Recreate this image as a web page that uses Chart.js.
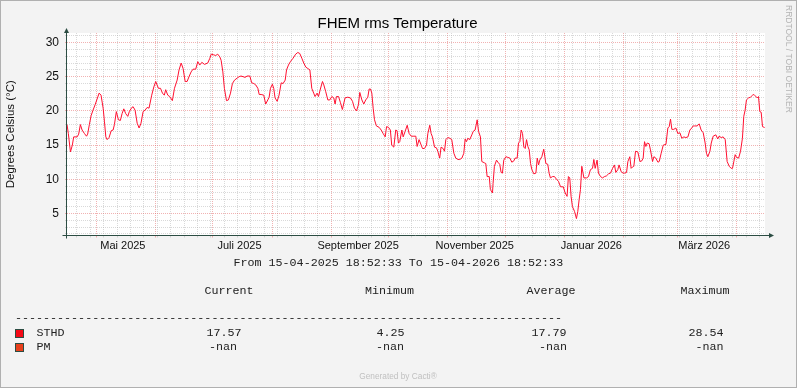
<!DOCTYPE html>
<html>
<head>
<meta charset="utf-8">
<title>FHEM rms Temperature</title>
<script src="https://cdn.jsdelivr.net/npm/chart.js@4.4.1/dist/chart.umd.min.js"></script>
<style>
  html, body { margin: 0; padding: 0; background: #f3f3f3; }
  #wrap { width: 797px; height: 388px; }
</style>
</head>
<body>
<div id="wrap"><canvas id="tempChart" width="797" height="388"></canvas></div>
<script>
// STHD temperature: days since 15-04-2025 18:52:33 and degrees C
const dayOffsets = [
    0.0, 0.7, 1.8, 2.8, 3.5, 5.3, 6.1, 7.0, 7.9, 9.1,
    10.2, 10.8, 11.7, 12.6, 13.6, 14.7, 15.7, 16.8, 17.8, 18.9,
    19.6, 20.3, 21.0, 22.0, 23.1, 24.1, 24.8, 25.8, 26.9, 27.9,
    28.8, 29.7, 30.7, 31.8, 32.6, 33.9, 34.6, 35.6, 36.7, 37.7,
    38.7, 39.8, 40.8, 41.9, 42.9, 44.3, 45.4, 46.4, 47.8, 48.9,
    49.9, 50.9, 51.6, 52.7, 53.7, 55.1, 56.2, 57.6, 58.6, 59.7,
    60.7, 61.8, 62.8, 63.8, 64.9, 65.9, 67.3, 68.4, 69.4, 70.5,
    71.9, 73.6, 74.7, 75.4, 76.7, 77.8, 78.8, 79.9, 80.6, 81.5,
    82.3, 83.4, 84.4, 85.5, 86.5, 87.6, 89.0, 90.0, 91.0, 92.1,
    93.1, 94.2, 95.6, 96.6, 97.7, 98.7, 99.8, 100.5, 101.5, 102.9,
    103.9, 105.0, 105.7, 106.4, 107.4, 108.1, 108.8, 109.9, 110.9, 112.0,
    113.0, 114.1, 114.8, 115.8, 116.8, 118.2, 119.6, 120.7, 121.7, 122.8,
    123.8, 124.9, 125.9, 127.0, 128.0, 129.0, 129.7, 130.8, 131.5, 132.5,
    133.6, 134.3, 135.3, 136.4, 137.4, 138.5, 139.5, 140.2, 140.9, 142.0,
    143.0, 144.0, 145.4, 146.8, 148.2, 149.3, 150.3, 151.4, 152.4, 153.1,
    154.2, 155.2, 156.2, 157.3, 158.0, 158.7, 159.4, 160.1, 160.8, 161.8,
    163.2, 164.3, 165.3, 166.4, 167.1, 168.1, 169.1, 169.8, 170.9, 171.9,
    172.6, 173.3, 174.0, 175.1, 175.8, 176.8, 177.9, 178.9, 180.0, 181.4,
    182.4, 183.1, 184.1, 184.8, 185.9, 186.9, 188.0, 188.7, 189.7, 190.4,
    191.1, 192.2, 193.2, 193.9, 194.9, 195.6, 196.7, 197.4, 198.1, 199.1,
    200.2, 201.2, 202.3, 203.3, 204.4, 205.4, 206.5, 207.5, 208.2, 208.9,
    209.6, 210.6, 211.7, 212.4, 213.4, 214.5, 215.2, 216.2, 216.9, 218.3,
    219.0, 219.7, 220.8, 221.4, 222.5, 222.8, 223.5, 224.6, 225.6, 226.3,
    227.0, 227.7, 228.4, 229.5, 230.5, 231.6, 232.6, 233.7, 234.3, 235.4,
    236.1, 236.8, 237.5, 238.2, 238.9, 239.6, 240.3, 241.0, 241.7, 242.4,
    243.1, 244.1, 245.2, 245.9, 246.6, 247.2, 248.3, 249.3, 250.4, 251.4,
    252.1, 252.8, 253.9, 254.9, 256.0, 257.0, 258.1, 259.5, 260.5, 261.5,
    262.2, 262.9, 263.6, 264.3, 265.4, 266.4, 267.1, 267.8, 268.5, 269.2,
    270.3, 271.7, 272.7, 273.7, 274.8, 275.5, 276.2, 277.2, 277.9, 279.0,
    280.0, 281.1, 282.1, 283.2, 284.2, 285.3, 286.3, 287.0, 288.0, 288.7,
    289.8, 290.8, 291.5, 292.6, 293.3, 294.3, 295.0, 295.7, 296.4, 297.3,
    298.5, 299.6, 300.6, 301.3, 302.0, 302.7, 303.4, 304.4, 305.1, 306.2,
    306.9, 307.9, 309.0, 309.7, 310.7, 311.8, 313.2, 314.2, 314.9, 315.6,
    316.3, 317.3, 318.4, 319.4, 320.5, 321.5, 322.6, 323.6, 324.7, 325.7,
    326.7, 327.4, 328.1, 329.5, 330.6, 331.6, 332.7, 333.7, 334.4, 335.1,
    336.2, 336.9, 337.9, 339.3, 340.3, 341.0, 342.1, 343.1, 344.2, 345.2,
    346.3, 347.3, 348.0, 348.7, 349.4, 350.1, 351.2, 352.2, 353.2, 353.9,
    354.6, 355.3, 356.4, 357.4, 358.5, 359.2, 359.9, 360.9, 361.6, 362.3,
    363.0, 363.7, 364.8
];
const sthdTemps = [
    18.0, 16.7, 14.0, 15.0, 16.2, 16.2, 16.6, 18.0, 17.2, 16.7,
    16.3, 16.6, 18.0, 19.3, 20.1, 20.9, 21.7, 22.6, 22.3, 20.4,
    18.4, 16.2, 15.8, 16.1, 17.1, 17.2, 18.0, 19.9, 18.7, 18.6,
    19.6, 20.3, 19.6, 19.2, 19.9, 20.5, 20.6, 20.1, 18.2, 17.5,
    18.2, 19.9, 20.1, 20.5, 20.4, 22.3, 23.5, 24.3, 23.3, 23.3,
    22.6, 22.3, 23.1, 22.3, 22.1, 21.5, 23.3, 24.5, 26.0, 27.0,
    26.2, 24.3, 24.3, 25.0, 25.7, 26.1, 26.1, 27.2, 26.7, 27.1,
    26.8, 27.0, 27.7, 28.3, 28.2, 28.1, 28.3, 27.9, 27.4, 25.7,
    23.3, 21.5, 21.6, 22.6, 24.0, 24.5, 24.8, 25.0, 25.1, 25.0,
    24.9, 25.1, 25.1, 24.1, 24.0, 23.8, 23.3, 22.4, 22.4, 22.3,
    21.0, 21.6, 22.0, 23.3, 23.9, 23.3, 21.9, 21.4, 22.3, 24.1,
    24.0, 24.5, 26.0, 26.7, 27.2, 27.7, 28.3, 28.54, 28.4, 27.7,
    27.0, 26.4, 26.2, 26.0, 23.3, 22.6, 22.1, 22.6, 22.1, 23.2,
    24.3, 23.8, 22.8, 21.6, 21.6, 22.1, 21.9, 21.0, 22.1, 22.1,
    21.2, 20.2, 21.9, 22.0, 21.9, 21.4, 20.4, 20.0, 20.9, 22.7,
    21.6, 21.0, 21.6, 22.0, 23.2, 23.2, 22.6, 20.4, 18.7, 17.8,
    17.6, 17.2, 16.7, 16.2, 17.7, 17.6, 17.2, 15.0, 14.7, 17.2,
    17.1, 15.3, 15.5, 17.2, 16.2, 17.0, 17.9, 16.7, 16.3, 16.3,
    16.3, 14.8, 15.8, 15.3, 14.5, 14.5, 15.0, 16.7, 17.9, 16.7,
    16.2, 14.7, 14.6, 14.1, 13.1, 14.7, 14.5, 14.1, 15.8, 16.1,
    16.0, 15.8, 13.8, 13.1, 12.9, 12.9, 13.1, 13.8, 15.9, 15.5,
    16.0, 15.8, 16.5, 17.0, 17.2, 18.7, 17.0, 16.2, 12.6, 12.4,
    12.3, 10.4, 10.4, 8.5, 8.0, 9.4, 11.9, 12.8, 12.4, 12.2,
    11.0, 10.9, 12.8, 13.3, 13.2, 13.1, 12.5, 12.7, 13.1, 13.1,
    15.3, 15.5, 17.2, 16.7, 14.7, 14.5, 15.8, 14.8, 14.3, 12.3,
    11.4, 10.8, 10.9, 13.1, 12.1, 12.8, 13.3, 14.4, 12.3, 12.2,
    10.9, 10.2, 10.4, 10.4, 10.0, 9.7, 8.9, 8.9, 8.0, 7.5,
    10.4, 10.2, 7.5, 6.0, 5.3, 4.25, 5.3, 7.0, 8.5, 11.9,
    10.2, 10.2, 10.4, 11.4, 11.6, 12.9, 11.6, 12.8, 10.9, 10.4,
    10.2, 10.4, 10.5, 10.8, 10.9, 11.6, 12.1, 11.0, 11.4, 12.1,
    11.1, 10.9, 10.9, 11.0, 12.6, 13.3, 11.6, 11.8, 11.9, 14.1,
    14.0, 12.6, 12.7, 13.1, 15.5, 14.8, 15.3, 15.2, 14.3, 12.6,
    13.3, 13.1, 12.5, 12.6, 13.8, 15.0, 15.1, 17.5, 17.7, 18.8,
    17.3, 17.3, 17.5, 16.7, 16.8, 16.0, 16.2, 16.1, 16.2, 17.2,
    17.5, 17.8, 17.8, 17.8, 18.1, 17.2, 16.8, 15.3, 13.8, 13.3,
    14.1, 15.3, 16.3, 16.5, 15.9, 16.3, 16.1, 16.2, 15.8, 12.6,
    11.9, 11.6, 11.6, 12.6, 13.6, 13.2, 13.1, 14.1, 16.0, 19.2,
    20.1, 21.6, 21.9, 22.0, 22.3, 22.4, 22.2, 21.9, 22.1, 19.9,
    19.8, 17.7, 17.57
];

// calendar marks in the same day units
const monthStarts = [15.21, 46.21, 76.21, 107.21, 138.21, 168.21, 199.21, 229.21, 260.21, 291.21, 319.21, 350.21];
const monthLabelDays = [29.21, 90.21, 152.21, 213.21, 274.21, 333.21];
const monthLabels = ['Mai 2025', 'Juli 2025', 'September 2025', 'November 2025', 'Januar 2026', 'März 2026'];
const firstMonday = 5.21;
const yTicks = [2, 3, 4, 5, 6, 7, 8, 9, 10, 11, 12, 13, 14, 15, 16, 17, 18, 19, 20, 21, 22, 23, 24, 25, 26, 27, 28, 29, 30, 31];

// legend table
const legendNames = ['STHD', 'PM'];
const statCurrent = ['17.57', '-nan'];
const statMinimum = ['4.25', '-nan'];
const statAverage = ['17.79', '-nan'];
const statMaximum = ['28.54', '-nan'];

const swatchColors = ['#f50a16', '#e8401c'];
const minorGrid = 'rgba(165,165,165,0.42)';
const majorGrid = 'rgba(225,95,95,0.48)';
const axisColor = '#2c4d43';

const sthdPoints = dayOffsets.map((d, i) => ({ x: d, y: sthdTemps[i] }));

const xTickList = [];
for (let d = firstMonday; d < 365; d += 7) {
    if (!monthStarts.some(m => Math.abs(m - d) < 0.05)) xTickList.push({ value: d, kind: 'week' });
}
monthStarts.forEach(m => xTickList.push({ value: m, kind: 'month' }));
monthLabelDays.forEach((d, i) => xTickList.push({ value: d, kind: 'label', text: monthLabels[i] }));
xTickList.sort((a, b) => a.value - b.value);

function xGridColor(c) {
    if (!c.tick) return minorGrid;
    if (c.tick.kind === 'label') return 'rgba(0,0,0,0)';
    return c.tick.kind === 'month' ? majorGrid : minorGrid;
}
function yGridColor(c) {
    if (!c.tick) return minorGrid;
    return c.tick.value % 5 === 0 ? majorGrid : minorGrid;
}

const rrdBackground = {
    id: 'rrdBackground',
    beforeDraw(chart) {
        const { ctx, chartArea: a } = chart;
        ctx.save();
        ctx.fillStyle = '#f3f3f3';
        ctx.fillRect(0, 0, chart.width, chart.height);
        ctx.fillStyle = '#ffffff';
        ctx.fillRect(a.left, a.top, a.right - a.left, a.bottom - a.top);
        ctx.strokeStyle = '#b0b0b0';
        ctx.lineWidth = 1;
        ctx.strokeRect(0.5, 0.5, chart.width - 1, chart.height - 1);
        ctx.restore();
    }
};

const rrdDecor = {
    id: 'rrdDecor',
    afterDraw(chart) {
        const { ctx, chartArea: a } = chart;
        ctx.save();

        // axes with arrow heads
        const ax = a.left - 0.5;
        const ay = a.bottom;
        ctx.strokeStyle = axisColor;
        ctx.fillStyle = axisColor;
        ctx.lineWidth = 1;
        ctx.beginPath();
        ctx.moveTo(ax - 4, ay);
        ctx.lineTo(a.right + 4, ay);
        ctx.moveTo(ax, ay + 3);
        ctx.lineTo(ax, a.top - 1);
        ctx.stroke();
        ctx.beginPath();
        ctx.moveTo(a.right + 4, ay - 2.5);
        ctx.lineTo(a.right + 9, ay);
        ctx.lineTo(a.right + 4, ay + 2.5);
        ctx.closePath();
        ctx.fill();
        ctx.beginPath();
        ctx.moveTo(ax - 2.5, a.top);
        ctx.lineTo(ax, a.top - 5);
        ctx.lineTo(ax + 2.5, a.top);
        ctx.closePath();
        ctx.fill();

        // title
        ctx.fillStyle = '#000';
        ctx.font = '15px "Liberation Sans", Arial, sans-serif';
        ctx.textAlign = 'center';
        ctx.textBaseline = 'alphabetic';
        ctx.fillText('FHEM rms Temperature', 397.5, 27.5);

        // watermark
        ctx.save();
        ctx.translate(788, 5);
        ctx.rotate(Math.PI / 2);
        ctx.font = '8.5px "Liberation Sans", Arial, sans-serif';
        ctx.fillStyle = '#b4b4b4';
        ctx.textAlign = 'left';
        ctx.textBaseline = 'middle';
        ctx.fillText('RRDTOOL / TOBI OETIKER', 0, 0);
        ctx.restore();

        // legend block
        ctx.font = '11.7px "Liberation Mono", "DejaVu Sans Mono", monospace';
        ctx.fillStyle = '#222';
        ctx.textAlign = 'left';
        ctx.textBaseline = 'middle';
        ctx.fillText('From 15-04-2025 18:52:33 To 15-04-2026 18:52:33', 233.5, 263);
        ctx.fillText('Current', 204.5, 291);
        ctx.fillText('Minimum', 365, 291);
        ctx.fillText('Average', 526.5, 291);
        ctx.fillText('Maximum', 680.5, 291);
        ctx.fillText('-'.repeat(78), 15, 318);

        const rowY = [333, 347];
        const colX = [[206.5, 376.5, 531.5, 688.5], [209, 376, 539, 695.5]];
        legendNames.forEach((name, i) => {
            const y = rowY[i];
            ctx.fillStyle = swatchColors[i];
            ctx.fillRect(15, y - 4, 9, 9);
            ctx.strokeStyle = axisColor;
            ctx.strokeRect(15.5, y - 3.5, 8, 8);
            ctx.fillStyle = '#222';
            ctx.fillText(name, 36.5, y);
            ctx.fillText(statCurrent[i], colX[i][0], y);
            ctx.fillText(statMinimum[i], colX[i][1], y);
            ctx.fillText(statAverage[i], colX[i][2], y);
            ctx.fillText(statMaximum[i], colX[i][3], y);
        });

        ctx.font = '8.3px "Liberation Sans", Arial, sans-serif';
        ctx.fillStyle = '#c0c0c0';
        ctx.textAlign = 'center';
        ctx.fillText('Generated by Cacti®', 398, 377);
        ctx.restore();
    }
};

const tempConfig = {
    type: 'line',
    data: {
        datasets: [{
            label: 'STHD',
            data: sthdPoints,
            borderColor: '#ff1030',
            borderWidth: 1,
            pointRadius: 0,
            tension: 0,
            fill: false
        }]
    },
    options: {
        responsive: false,
        animation: false,
        layout: { padding: { top: 33, right: 32, left: 0, bottom: 0 } },
        plugins: {
            legend: { display: false },
            tooltip: { enabled: false }
        },
        scales: {
            x: {
                type: 'linear',
                min: 0,
                max: 365,
                afterBuildTicks: scale => { scale.ticks = xTickList.map(t => Object.assign({}, t)); },
                afterFit: scale => { scale.height = 152.5; },
                border: { display: false, dash: [1, 1] },
                grid: { color: xGridColor, tickColor: xGridColor, lineWidth: 1, drawTicks: true, tickLength: 2 },
                ticks: {
                    autoSkip: false,
                    maxRotation: 0,
                    minRotation: 0,
                    padding: 2,
                    color: '#111',
                    font: { family: '"Liberation Sans", Arial, sans-serif', size: 11 },
                    callback: (v, i, ticks) => ticks[i].kind === 'label' ? ticks[i].text : ''
                }
            },
            y: {
                min: 1.78,
                max: 31.39,
                afterBuildTicks: scale => { scale.ticks = yTicks.map(v => ({ value: v })); },
                afterFit: scale => { scale.width = 67; },
                border: { display: false, dash: [1, 1] },
                grid: { color: yGridColor, tickColor: yGridColor, lineWidth: 1, drawTicks: true, tickLength: 2 },
                ticks: {
                    autoSkip: false,
                    padding: 6,
                    color: '#111',
                    font: { family: '"Liberation Sans", Arial, sans-serif', size: 12 },
                    callback: v => v % 5 === 0 ? String(v) : ''
                },
                title: {
                    display: true,
                    text: 'Degrees Celsius (°C)',
                    color: '#111',
                    padding: { top: 4, bottom: 0 },
                    font: { family: '"Liberation Sans", Arial, sans-serif', size: 11.5 }
                }
            }
        }
    },
    plugins: [rrdBackground, rrdDecor]
};

const tempChart = new Chart(
    document.getElementById('tempChart'),
    tempConfig
);
</script>
</body>
</html>
